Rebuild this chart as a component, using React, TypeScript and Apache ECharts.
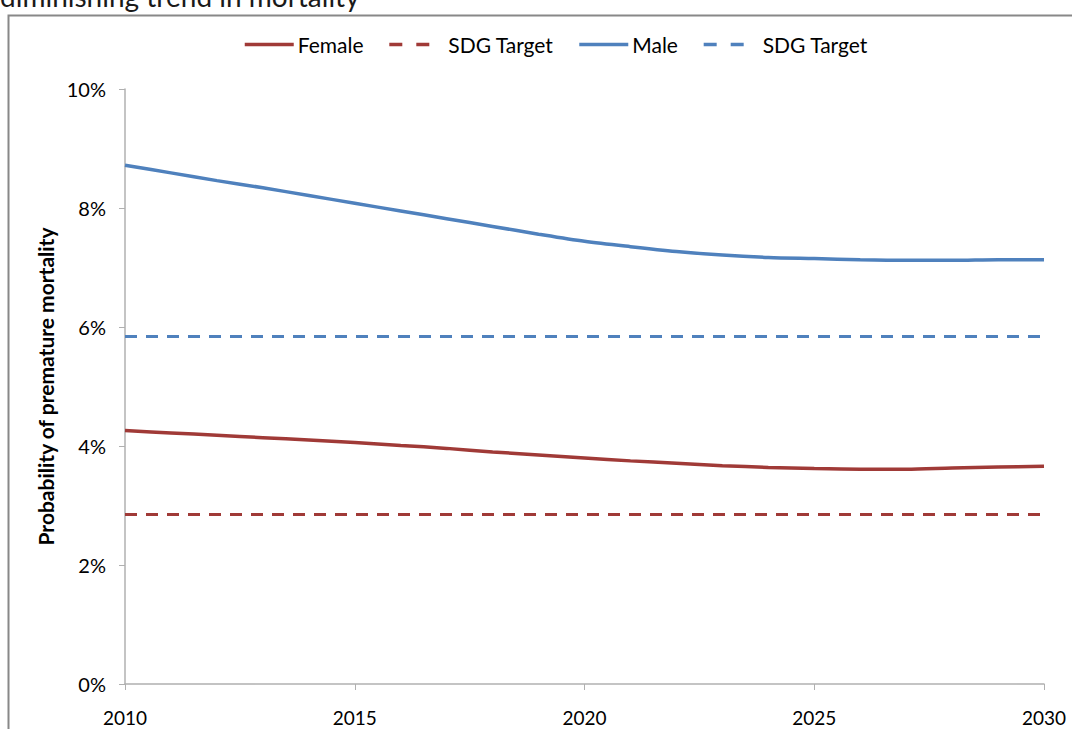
import React, { useEffect, useRef } from "react";
import * as echarts from "echarts";

const years = [2010, 2011, 2012, 2013, 2014, 2015, 2016, 2017, 2018, 2019, 2020, 2021, 2022, 2023, 2024, 2025, 2026, 2027, 2028, 2029, 2030];
const femaleValues = [4.26, 4.22, 4.18, 4.14, 4.1, 4.06, 4.01, 3.96, 3.9, 3.85, 3.8, 3.75, 3.71, 3.67, 3.64, 3.62, 3.61, 3.61, 3.63, 3.645, 3.66];
const maleValues = [8.72, 8.59, 8.46, 8.34, 8.21, 8.08, 7.95, 7.82, 7.69, 7.56, 7.44, 7.35, 7.27, 7.21, 7.17, 7.15, 7.13, 7.12, 7.12, 7.13, 7.13];
const targetYears = [2010, 2030];
const femaleTarget = [2.85, 2.85];
const maleTarget = [5.84, 5.84];
const yTicks = [0, 2, 4, 6, 8, 10];
const titleText = "diminishing trend in mortality";
const yAxisTitle = "Probability of premature mortality";

const FEMALE = "#A03A37";
const MALE = "#4F81BD";
const FONT = "Lato, 'Open Sans', sans-serif";

export default function App() {
  const ref = useRef<HTMLDivElement>(null);
  useEffect(() => {
    if (!ref.current) return;
    const chart = echarts.init(ref.current, undefined, { renderer: "svg" });
    const zip = (xs: number[], ys: number[]) => xs.map((x, i) => [x, ys[i]]);
    chart.setOption({
      animation: false,
      backgroundColor: "#ffffff",
      textStyle: { fontFamily: FONT },
      graphic: [
        {
          type: "text",
          left: 0,
          top: -18,
          style: { text: titleText, fontSize: 28, fontFamily: FONT, fill: "#1a1a1a" },
        },
        {
          type: "rect",
          shape: { x: 8.5, y: 15.5, width: 1200, height: 900 },
          style: { fill: "none", stroke: "#888888", lineWidth: 2 },
          silent: true,
        },
      ],
      legend: {
        top: 34,
        left: 243,
        padding: 0,
        itemWidth: 49,
        itemHeight: 14,
        itemGap: 24,
        itemStyle: { opacity: 0 },
        lineStyle: { width: 3.5 },
        textStyle: { fontSize: 21, color: "#000", fontFamily: FONT },
        formatter: (n: string) => (n.indexOf("SDG") === 0 ? "SDG Target" : n),
        data: [
          { name: "Female", lineStyle: { width: 3.5 }, textStyle: { padding: [0, 0, 0, -1] } },
          { name: "SDG Target F", lineStyle: { type: [13, 14], width: 3.5 }, textStyle: { padding: [0, 0, 0, 5] } },
          { name: "Male", lineStyle: { width: 3.5 }, textStyle: { padding: [0, 0, 0, -1] } },
          { name: "SDG Target M", lineStyle: { type: [13, 14], width: 3.5 }, textStyle: { padding: [0, 0, 0, 5] } },
        ],
      },
      grid: { left: 125, right: 28, top: 89, bottom: 45 },
      xAxis: {
        type: "value",
        min: 2010,
        max: 2030,
        interval: 5,
        axisLine: { lineStyle: { color: "#b0b0b0", width: 1.5 } },
        axisTick: { show: true, length: 6, lineStyle: { color: "#b0b0b0" } },
        splitLine: { show: false },
        axisLabel: { margin: 24, fontSize: 19, color: "#000", fontFamily: FONT, formatter: (v: number) => String(v) },
      },
      yAxis: {
        type: "value",
        min: yTicks[0],
        max: yTicks[yTicks.length - 1],
        interval: 2,
        name: yAxisTitle,
        nameLocation: "middle",
        nameRotate: 90,
        nameGap: 68,
        nameTextStyle: { fontSize: 21, fontWeight: "bold", color: "#000", fontFamily: FONT },
        axisLine: { show: true, lineStyle: { color: "#b0b0b0", width: 1.5 } },
        axisTick: { show: true, length: 6, lineStyle: { color: "#b0b0b0" } },
        splitLine: { show: false },
        axisLabel: { margin: 19, fontSize: 20, color: "#000", fontFamily: FONT, formatter: (v: number) => v + "%" },
      },
      series: [
        {
          name: "Female",
          type: "line",
          data: zip(years, femaleValues),
          smooth: 0.3,
          showSymbol: false,
          symbol: "none",
          lineStyle: { color: FEMALE, width: 3.5 },
          itemStyle: { color: FEMALE },
        },
        {
          name: "SDG Target F",
          type: "line",
          data: zip(targetYears, femaleTarget),
          showSymbol: false,
          symbol: "none",
          lineStyle: { color: FEMALE, width: 3, type: [12, 9] },
          itemStyle: { color: FEMALE },
        },
        {
          name: "Male",
          type: "line",
          data: zip(years, maleValues),
          smooth: 0.3,
          showSymbol: false,
          symbol: "none",
          lineStyle: { color: MALE, width: 3.5 },
          itemStyle: { color: MALE },
        },
        {
          name: "SDG Target M",
          type: "line",
          data: zip(targetYears, maleTarget),
          showSymbol: false,
          symbol: "none",
          lineStyle: { color: MALE, width: 3, type: [12, 9] },
          itemStyle: { color: MALE },
        },
      ],
    });
    return () => chart.dispose();
  }, []);
  return (
    <div
      ref={ref}
      style={{ position: "fixed", left: 0, top: 0, width: 1072, height: 729 }}
    />
  );
}
